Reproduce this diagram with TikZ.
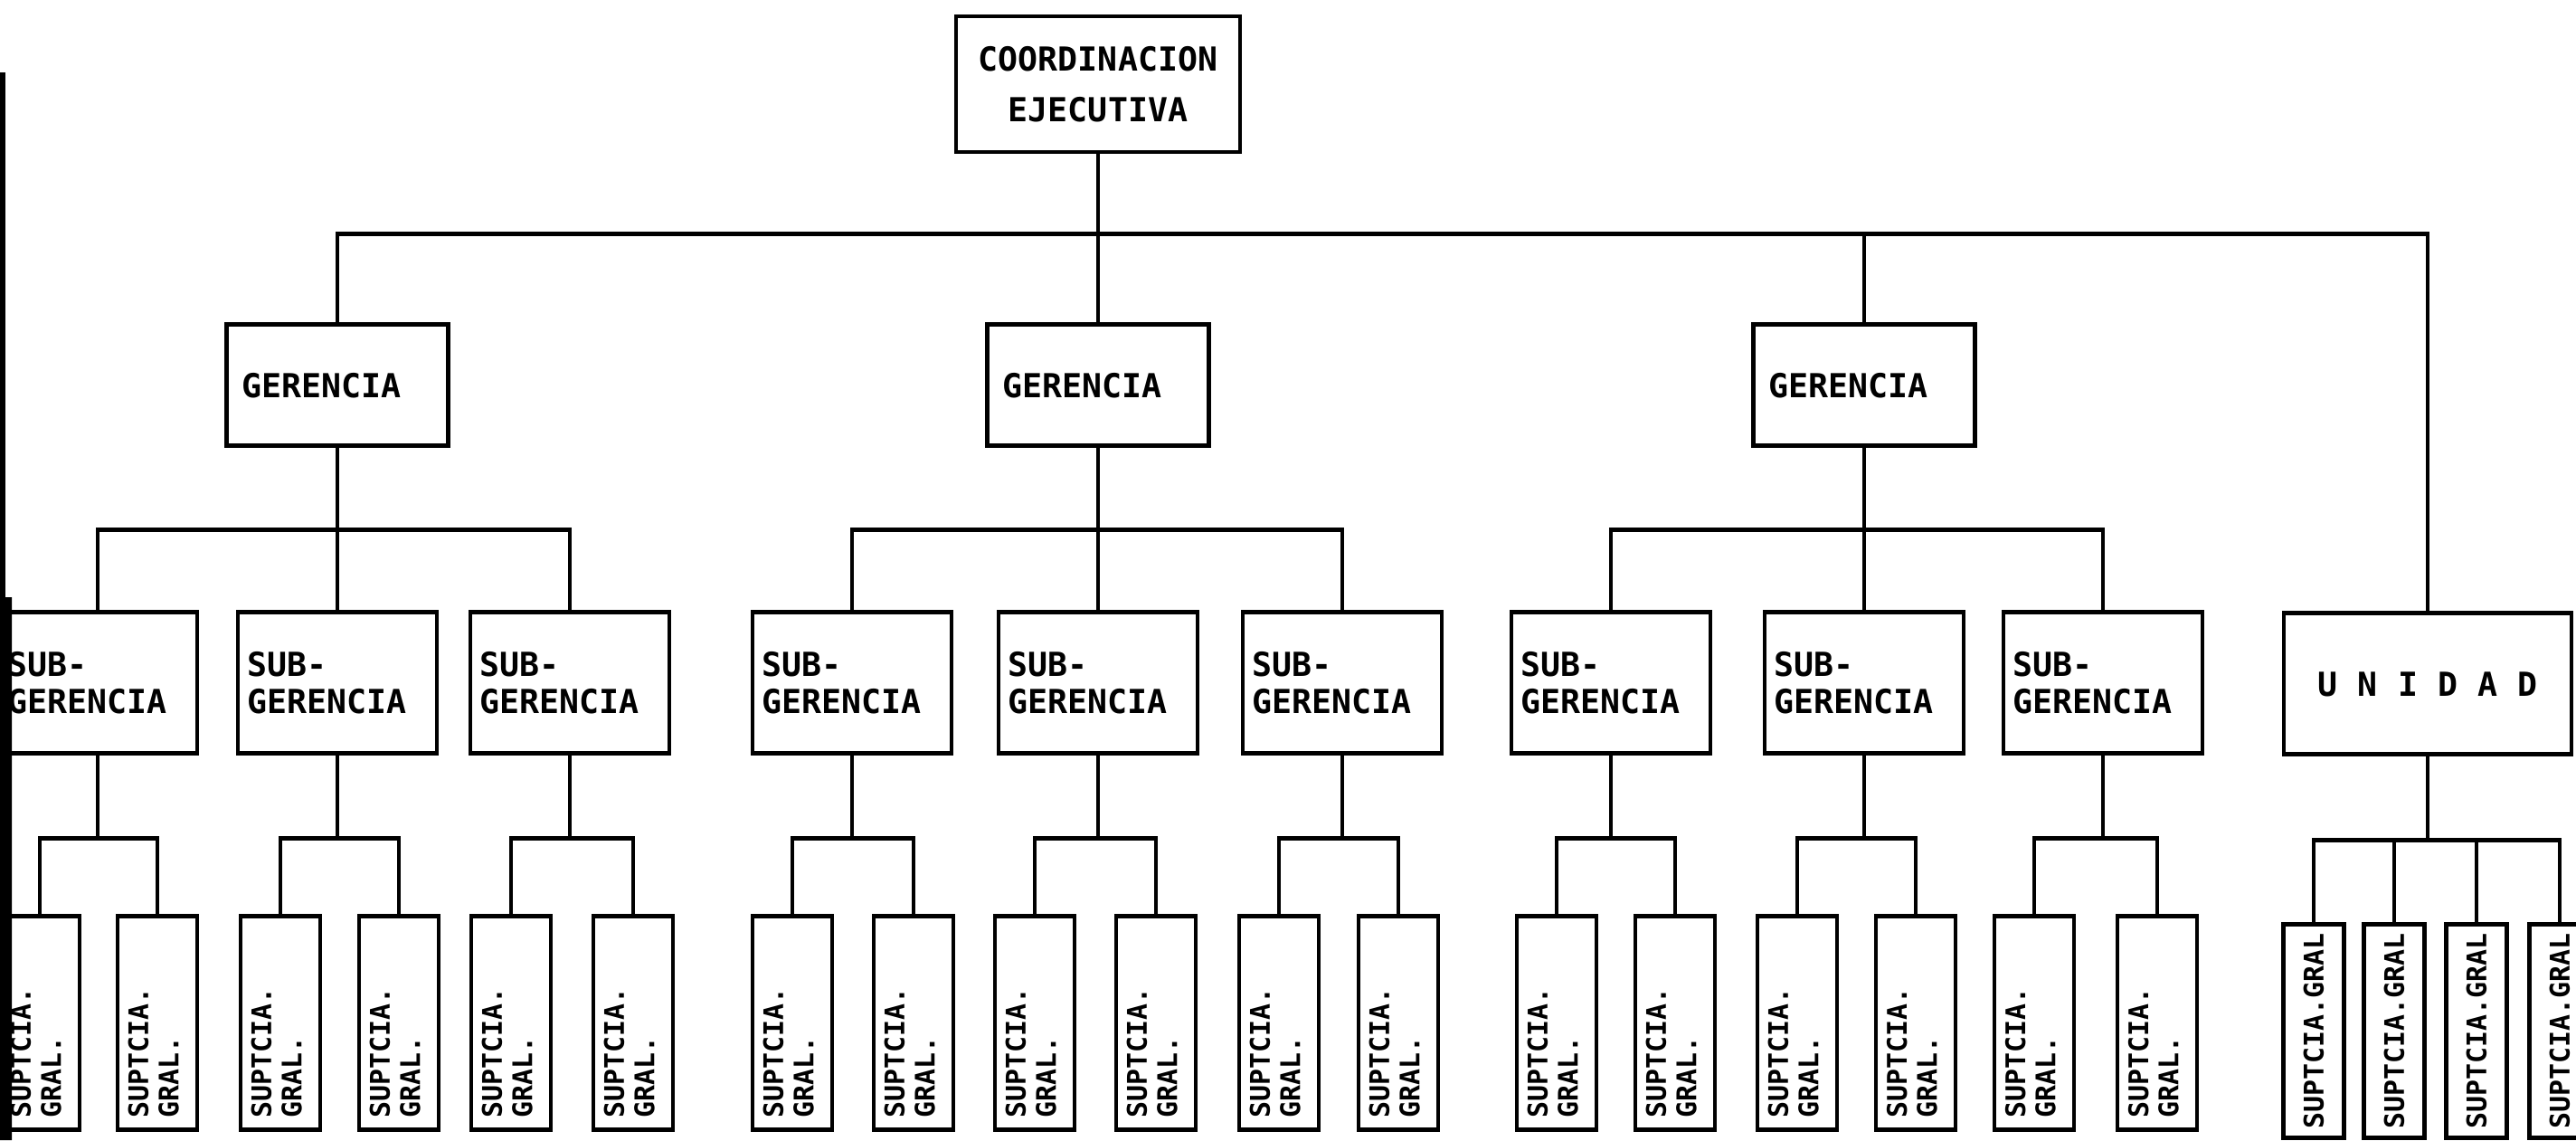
\documentclass[tikz,border=0pt]{standalone}
\usepackage{fontspec}
\setmonofont{DejaVu Sans Mono}
\usepackage{graphicx}
\usepackage{tikz}
\usetikzlibrary{positioning}

\newcommand{\supgral}{\rotatebox{90}{\makebox[2.1cm][l]{\begin{tabular}{@{}l@{}}SUPTCIA.\\GRAL.\end{tabular}}}}
\newcommand{\supline}{\rotatebox{90}{SUPTCIA.GRAL}}

\begin{document}
\begin{tikzpicture}[
	every node/.style={font=\ttfamily\bfseries\fontsize{10.4}{11.5}\selectfont},
	box/.style={rectangle, draw, line width=1.4pt, inner sep=0pt},
	headbox/.style={box, minimum width=3.14cm, minimum height=1.5cm, align=center, font=\ttfamily\bfseries\fontsize{10.4}{16}\selectfont},
	gerbox/.style={box, minimum width=2.45cm, minimum height=1.34cm, text width=2.11cm, align=left},
	subbox/.style={box, minimum width=2.2cm, minimum height=1.56cm, text width=2.0cm, align=left},
	unibox/.style={box, minimum width=3.18cm, minimum height=1.56cm},
	supbox/.style={box, minimum width=0.88cm, minimum height=2.36cm, font=\ttfamily\bfseries\fontsize{8.5}{9.5}\selectfont},
	unisup/.style={supbox, minimum width=0.67cm},
	link/.style={line width=1.4pt}
	]
	\useasboundingbox (0,0) rectangle (28.48,-12.6);

	% Nodes
	\node[headbox] (coord) at (12.14,-0.93) {COORDINACION\\EJECUTIVA};
	\node[gerbox, below=1.86cm of coord, xshift=-8.41cm] (ger1) {GERENCIA};
	\node[gerbox, below=1.86cm of coord] (ger2) {GERENCIA};
	\node[gerbox, below=1.86cm of coord, xshift=8.47cm] (ger3) {GERENCIA};
	\node[unibox, below=5.05cm of coord, xshift=14.70cm] (unidad) {U N I D A D};

	\node[subbox, below=1.79cm of ger1, xshift=-2.65cm] (sub1) {SUB-\\GERENCIA};
	\node[subbox, below=1.79cm of ger1] (sub2) {SUB-\\GERENCIA};
	\node[subbox, below=1.79cm of ger1, xshift=2.57cm] (sub3) {SUB-\\GERENCIA};
	\node[subbox, below=1.79cm of ger2, xshift=-2.72cm] (sub4) {SUB-\\GERENCIA};
	\node[subbox, below=1.79cm of ger2] (sub5) {SUB-\\GERENCIA};
	\node[subbox, below=1.79cm of ger2, xshift=2.70cm] (sub6) {SUB-\\GERENCIA};
	\node[subbox, below=1.79cm of ger3, xshift=-2.80cm] (sub7) {SUB-\\GERENCIA};
	\node[subbox, below=1.79cm of ger3] (sub8) {SUB-\\GERENCIA};
	\node[subbox, below=1.79cm of ger3, xshift=2.64cm] (sub9) {SUB-\\GERENCIA};

	\node[supbox, below=1.75cm of sub1, xshift=-0.64cm] (sup1a) {\supgral};
	\node[supbox, below=1.75cm of sub1, xshift=0.66cm] (sup1b) {\supgral};
	\node[supbox, below=1.75cm of sub2, xshift=-0.63cm] (sup2a) {\supgral};
	\node[supbox, below=1.75cm of sub2, xshift=0.68cm] (sup2b) {\supgral};
	\node[supbox, below=1.75cm of sub3, xshift=-0.65cm] (sup3a) {\supgral};
	\node[supbox, below=1.75cm of sub3, xshift=0.70cm] (sup3b) {\supgral};
	\node[supbox, below=1.75cm of sub4, xshift=-0.66cm] (sup4a) {\supgral};
	\node[supbox, below=1.75cm of sub4, xshift=0.68cm] (sup4b) {\supgral};
	\node[supbox, below=1.75cm of sub5, xshift=-0.70cm] (sup5a) {\supgral};
	\node[supbox, below=1.75cm of sub5, xshift=0.64cm] (sup5b) {\supgral};
	\node[supbox, below=1.75cm of sub6, xshift=-0.70cm] (sup6a) {\supgral};
	\node[supbox, below=1.75cm of sub6, xshift=0.62cm] (sup6b) {\supgral};
	\node[supbox, below=1.75cm of sub7, xshift=-0.60cm] (sup7a) {\supgral};
	\node[supbox, below=1.75cm of sub7, xshift=0.71cm] (sup7b) {\supgral};
	\node[supbox, below=1.75cm of sub8, xshift=-0.74cm] (sup8a) {\supgral};
	\node[supbox, below=1.75cm of sub8, xshift=0.57cm] (sup8b) {\supgral};
	\node[supbox, below=1.75cm of sub9, xshift=-0.76cm] (sup9a) {\supgral};
	\node[supbox, below=1.75cm of sub9, xshift=0.60cm] (sup9b) {\supgral};

	\node[unisup, below=1.83cm of unidad, xshift=-1.26cm] (supu1) {\supline};
	\node[unisup, below=1.83cm of unidad, xshift=-0.37cm] (supu2) {\supline};
	\node[unisup, below=1.83cm of unidad, xshift=0.54cm] (supu3) {\supline};
	\node[unisup, below=1.83cm of unidad, xshift=1.46cm] (supu4) {\supline};

	% Lines
	\draw[link] (coord.south) -- ++(0,-0.88) -| (ger1.north) (coord.south) ++(0,-0.88) -| (unidad.north);
	\draw[link] (coord.south) -- (ger2.north);
	\draw[link] (coord.south) ++(0,-0.88) -| (ger3.north);

	\draw[link] (ger1.south) -- ++(0,-0.9) -| (sub1.north) (ger1.south) ++(0,-0.9) -| (sub3.north);
	\draw[link] (ger1.south) -- (sub2.north);
	\draw[link] (ger2.south) -- ++(0,-0.9) -| (sub4.north) (ger2.south) ++(0,-0.9) -| (sub6.north);
	\draw[link] (ger2.south) -- (sub5.north);
	\draw[link] (ger3.south) -- ++(0,-0.9) -| (sub7.north) (ger3.south) ++(0,-0.9) -| (sub9.north);
	\draw[link] (ger3.south) -- (sub8.north);

	\draw[link] (sub1.south) -- ++(0,-0.91) -| (sup1a.north) (sub1.south) ++(0,-0.91) -| (sup1b.north);
	\draw[link] (sub2.south) -- ++(0,-0.91) -| (sup2a.north) (sub2.south) ++(0,-0.91) -| (sup2b.north);
	\draw[link] (sub3.south) -- ++(0,-0.91) -| (sup3a.north) (sub3.south) ++(0,-0.91) -| (sup3b.north);
	\draw[link] (sub4.south) -- ++(0,-0.91) -| (sup4a.north) (sub4.south) ++(0,-0.91) -| (sup4b.north);
	\draw[link] (sub5.south) -- ++(0,-0.91) -| (sup5a.north) (sub5.south) ++(0,-0.91) -| (sup5b.north);
	\draw[link] (sub6.south) -- ++(0,-0.91) -| (sup6a.north) (sub6.south) ++(0,-0.91) -| (sup6b.north);
	\draw[link] (sub7.south) -- ++(0,-0.91) -| (sup7a.north) (sub7.south) ++(0,-0.91) -| (sup7b.north);
	\draw[link] (sub8.south) -- ++(0,-0.91) -| (sup8a.north) (sub8.south) ++(0,-0.91) -| (sup8b.north);
	\draw[link] (sub9.south) -- ++(0,-0.91) -| (sup9a.north) (sub9.south) ++(0,-0.91) -| (sup9b.north);

	\draw[link] (unidad.south) -- ++(0,-0.92) -| (supu1.north) (unidad.south) ++(0,-0.92) -| (supu4.north);
	\draw[link] (unidad.south) ++(0,-0.92) -| (supu2.north) (unidad.south) ++(0,-0.92) -| (supu3.north);

	% Edge of the sheet
	\fill (0,-0.8) -- (0.06,-0.8) -- (0.06,-6.6) -- (0.13,-6.6) -- (0.13,-12.6) -- (0,-12.6) -- cycle;
\end{tikzpicture}
\end{document}
